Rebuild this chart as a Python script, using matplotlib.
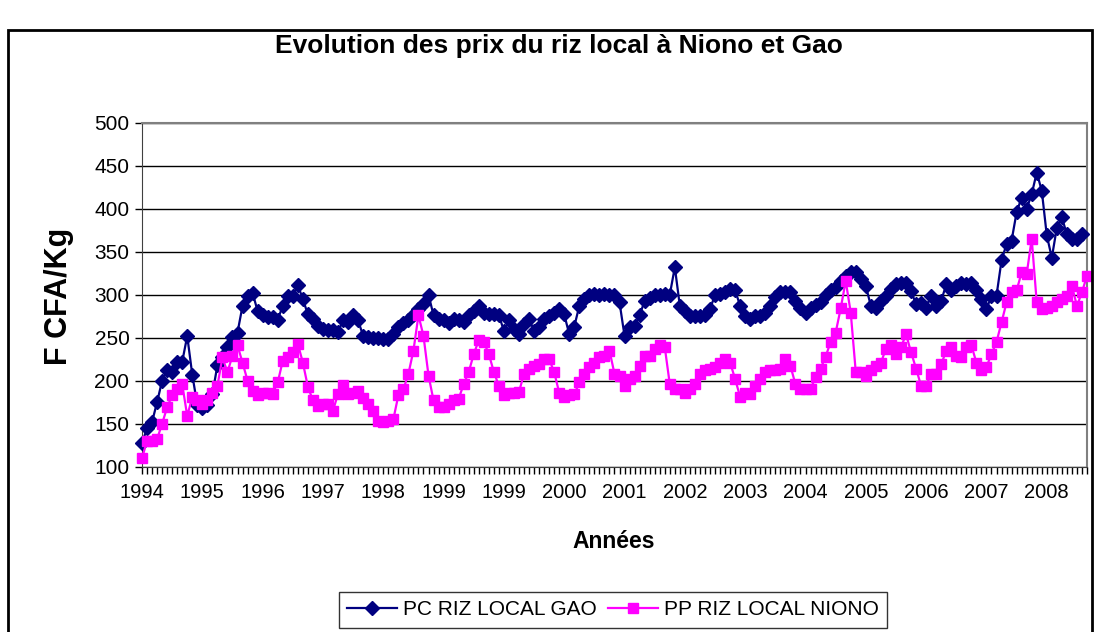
import matplotlib
matplotlib.use("Agg")
import matplotlib.pyplot as plt
import numpy as np
from matplotlib.patches import Rectangle

plt.rcParams["font.family"] = ["Liberation Sans", "DejaVu Sans"]

# monthly series, one value per category on the x axis
gao = [
    127, 145, 152, 175, 200, 213, 210, 222, 222, 252, 207, 172,
    168, 172, 184, 218, 228, 239, 251, 256, 287, 299, 302, 281,
    276, 274, 274, 271, 287, 298, 299, 311, 295, 277, 272, 264,
    260, 259, 259, 257, 270, 268, 276, 270, 252, 251, 250, 250,
    249, 248, 254, 262, 267, 270, 276, 283, 289, 300, 276, 272,
    270, 267, 272, 270, 268, 276, 281, 287, 279, 277, 277, 276,
    258, 270, 260, 254, 266, 272, 258, 262, 272, 275, 279, 283,
    277, 254, 263, 287, 295, 300, 301, 300, 301, 300, 300, 291,
    252, 262, 264, 276, 293, 296, 300, 300, 301, 300, 332, 287,
    281, 275, 275, 275, 276, 283, 300, 301, 303, 307, 305, 287,
    275, 272, 275, 275, 279, 287, 297, 303, 303, 303, 293, 285,
    279, 285, 288, 291, 300, 305, 309, 316, 322, 326, 326, 318,
    310, 287, 285, 293, 299, 307, 312, 314, 314, 304, 289, 290,
    285, 299, 287, 293, 312, 305, 310, 314, 312, 314, 305, 295,
    283, 299, 299, 340, 359, 363, 396, 413, 400, 417, 442, 421,
    369, 343, 378, 390, 370, 365, 365, 370, None,
]
niono = [
    110, 130, 130, 132, 150, 169, 183, 190, 196, 159, 181, 177,
    173, 177, 186, 194, 227, 210, 229, 241, 221, 200, 188, 183,
    186, 186, 185, 198, 223, 227, 233, 243, 221, 193, 177, 171,
    173, 173, 165, 185, 195, 184, 186, 188, 180, 173, 165, 153,
    152, 153, 155, 183, 190, 208, 235, 276, 252, 206, 177, 169,
    169, 173, 177, 179, 196, 210, 231, 247, 245, 231, 210, 194,
    183, 186, 186, 187, 208, 214, 217, 219, 225, 225, 210, 186,
    181, 183, 184, 198, 208, 216, 221, 227, 229, 235, 208, 206,
    194, 202, 206, 217, 229, 229, 237, 241, 239, 196, 190, 190,
    186, 190, 196, 208, 212, 214, 216, 220, 225, 221, 202, 181,
    186, 184, 194, 202, 210, 212, 213, 214, 225, 217, 196, 190,
    190, 190, 204, 214, 228, 245, 256, 284, 316, 279, 210, 210,
    206, 212, 217, 221, 237, 241, 231, 239, 254, 233, 214, 194,
    194, 208, 208, 219, 235, 239, 229, 227, 239, 241, 221, 212,
    216, 231, 245, 268, 291, 303, 305, 326, 324, 365, 291, 283,
    285, 287, 291, 295, 299, 310, 287, 303, 322,
]
year_labels = ["1994", "1995", "1996", "1997", "1998", "1999", "1999", "2000",
               "2001", "2002", "2003", "2004", "2005", "2006", "2007", "2008"]
label_step = 12

W, H = 1094, 632
x = np.arange(len(niono))
gao_arr = np.array([np.nan if v is None else v for v in gao], dtype=float)
niono_arr = np.array(niono, dtype=float)

fig = plt.figure(figsize=(W / 100, H / 100), dpi=100)
ax = fig.add_axes([142 / W, 1 - 466.7 / H, 945 / W, 344 / H])

ax.plot(x, gao_arr, color="#000080", lw=1.6, marker="D", ms=7.5,
        mec="#000080", mfc="#000080", label="PC RIZ LOCAL GAO", clip_on=False, zorder=3)
ax.plot(x, niono_arr, color="#FF00FF", lw=1.6, marker="s", ms=7,
        mec="#FF00FF", mfc="#FF00FF", label="PP RIZ LOCAL NIONO", clip_on=False, zorder=3)

ax.set_xlim(0, len(niono) - 1)
ax.set_ylim(100, 500)
ax.set_yticks(np.arange(100, 501, 50))
ax.grid(axis="y", color="black", lw=1)
ax.set_axisbelow(True)

ax.set_xticks(np.arange(0, len(year_labels) * label_step, label_step))
ax.set_xticklabels(year_labels)
ax.set_xticks(x, minor=True)
ax.tick_params(axis="x", which="both", direction="out", length=5, width=1,
               color="black", labelsize=14.5, pad=7)
ax.tick_params(axis="y", direction="out", length=5, width=1, labelsize=15, pad=4)

for side in ("top", "right"):
    ax.spines[side].set_color("#808080")
    ax.spines[side].set_linewidth(1.5)
ax.spines["left"].set_color("#404040")
ax.spines["bottom"].set_color("#404040")

fig.text(58.5 / W, 1 - 296 / H, "F CFA/Kg", rotation=90, ha="center", va="center",
         fontsize=22, fontweight="bold")
fig.text(614 / W, 1 - 541 / H, "Années", ha="center", va="center",
         fontsize=16.5, fontweight="bold")
fig.text(559 / W, 1 - 46 / H, "Evolution des prix du riz local à Niono et Gao",
         ha="center", va="center", fontsize=19, fontweight="bold")

fig.patches.append(Rectangle((8 / W, -0.1), 1084 / W, 1.1 - 30 / H,
                             transform=fig.transFigure, fill=False,
                             ec="black", lw=2))

leg = fig.legend(loc="upper center", bbox_to_anchor=(613 / W, 1 - 592 / H),
                 ncol=2, frameon=True, fancybox=False, edgecolor="black",
                 fontsize=15, handlelength=2.4, columnspacing=0.5,
                 handletextpad=0.3, borderpad=0.4, borderaxespad=0)
leg.get_frame().set_linewidth(1)

fig.savefig("out.png", dpi=100)
